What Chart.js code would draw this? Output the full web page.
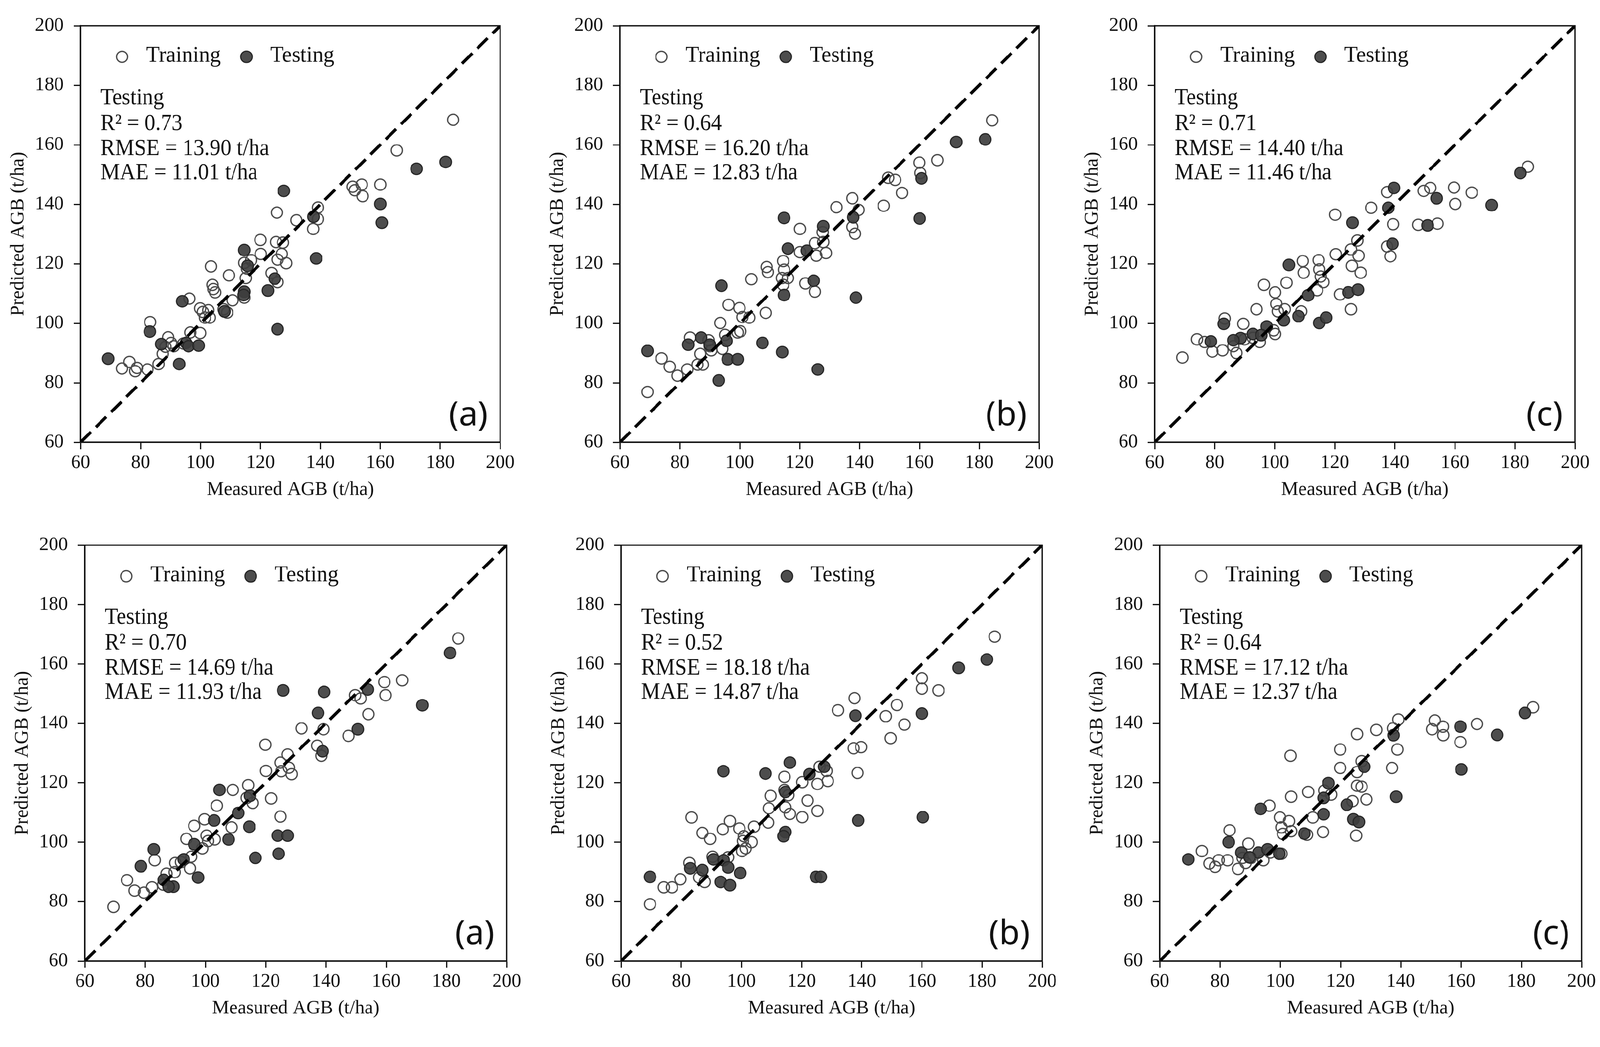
<!DOCTYPE html>
<html>
<head>
<meta charset="utf-8">
<script src="https://cdn.jsdelivr.net/npm/chart.js@4.4.0/dist/chart.umd.min.js"></script>
<style>
html,body{margin:0;padding:0;background:#fff;overflow:hidden;}
#stage{position:absolute;left:0;top:0;width:4168px;height:2680px;transform-origin:0 0;background:#fff;}
canvas{position:absolute;}
</style>
</head>
<body>
<div id="stage">
<canvas id="p0"></canvas><canvas id="p1"></canvas><canvas id="p2"></canvas>
<canvas id="p3"></canvas><canvas id="p4"></canvas><canvas id="p5"></canvas>
</div>
<script>
// ---------------- DATA ----------------
const axisMin = 60, axisMax = 200, axisStep = 20;
const oneToOne = [60, 200];
const panelLabels = ['(a)', '(b)', '(c)', '(a)', '(b)', '(c)'];
const r2Values = ['0.73', '0.64', '0.71', '0.70', '0.52', '0.64'];
const rmseValues = ['13.90', '16.20', '14.40', '14.69', '18.18', '17.12'];
const maeValues = ['11.01', '12.83', '11.46', '11.93', '14.87', '12.37'];
const xTitle = 'Measured AGB (t/ha)';
const yTitle = 'Predicted AGB (t/ha)';

const topTrainA = [[184.3,168.4],[165.5,158.1],[150.8,145.9],[151.5,144.7],[153.8,146.6],[154.1,142.7],[160.0,146.6],[139.2,138.9],[139.2,135.0],[137.6,131.7],[132.0,134.6],[125.5,137.2],[120.0,128.0],[125.2,127.3],[127.5,127.1],[120.1,123.3],[127.1,123.3],[125.7,121.4],[128.6,120.2],[103.5,119.1],[109.5,116.1],[114.6,120.3],[116.9,121.2],[115.1,115.2],[123.7,116.9],[125.7,113.8],[104.0,112.9],[104.3,111.5],[104.9,110.4],[110.7,107.7],[114.6,108.6],[96.3,108.3],[99.9,105.0],[100.8,103.8],[102.6,104.4],[101.5,101.9],[103.1,101.9],[108.9,103.6],[83.2,100.4],[99.9,96.7],[96.6,96.9],[89.2,95.3],[90.2,93.4],[88.3,92.1],[91.1,92.3],[87.4,89.7],[86.0,86.3],[94.3,93.2],[76.3,87.0],[73.8,84.8],[78.8,85.0],[78.2,83.9],[82.3,84.5],[115.5,118.4],[107.7,104.7]];
const topTestA = [[181.8,154.2],[172.1,151.9],[127.8,144.5],[160.0,140.1],[160.5,133.8],[137.7,135.8],[138.6,121.8],[114.6,124.6],[115.7,119.3],[124.8,115.0],[122.5,111.0],[114.6,110.6],[114.4,109.5],[93.9,107.4],[108.0,104.0],[125.7,98.0],[83.1,97.2],[86.9,93.0],[95.2,93.4],[96.0,92.3],[99.4,92.5],[92.9,86.3],[69.2,88.1]];

const topTrainB = [[184.3,168.2],[166.0,154.8],[160.0,154.0],[160.3,150.5],[149.6,148.9],[151.9,148.2],[154.2,143.8],[148.1,139.5],[137.6,142.0],[139.7,138.1],[137.6,132.4],[138.5,130.1],[132.3,139.0],[120.1,131.7],[127.7,130.6],[127.9,127.3],[125.1,126.9],[120.1,123.9],[125.6,122.7],[128.8,123.6],[114.5,120.9],[114.8,118.0],[109.0,118.9],[109.4,117.2],[103.9,114.8],[114.1,115.2],[116.1,115.2],[114.5,112.9],[121.9,113.4],[125.1,110.6],[96.3,106.2],[99.9,105.1],[100.9,102.1],[103.2,101.9],[108.7,103.5],[93.5,100.1],[95.1,96.1],[99.3,96.9],[100.2,97.3],[83.4,95.2],[89.6,94.3],[90.5,90.9],[86.8,89.7],[94.2,91.4],[85.9,86.1],[87.7,86.1],[82.5,84.5],[73.9,88.2],[76.6,85.4],[79.2,82.4],[69.2,76.9],[90.0,92.3]];
const topTestB = [[182.0,161.8],[172.3,160.9],[160.7,148.7],[160.1,135.2],[137.9,135.6],[114.8,135.4],[127.9,132.6],[116.1,125.1],[122.4,124.4],[124.7,114.3],[114.8,109.5],[93.9,112.6],[138.8,108.6],[107.6,93.4],[114.2,90.3],[126.1,84.5],[93.0,80.8],[69.2,90.7],[82.8,92.8],[87.1,95.2],[96.0,87.9],[99.3,87.9],[95.6,94.1],[90.0,92.8]];

const topTrainC = [[184.3,152.6],[159.7,145.6],[160.1,140.1],[165.6,143.9],[149.6,144.5],[151.8,145.5],[147.8,133.1],[154.2,133.5],[137.4,144.1],[139.4,133.3],[132.1,138.8],[120.1,136.5],[137.4,125.8],[138.5,122.5],[127.5,127.8],[125.4,124.8],[127.9,122.7],[120.3,123.2],[125.7,119.3],[128.6,117.0],[109.3,120.9],[109.6,117.0],[114.6,121.2],[114.8,118.1],[115.3,115.7],[116.2,113.8],[114.1,111.1],[121.7,109.7],[125.4,104.7],[96.4,112.9],[103.9,113.6],[100.1,110.4],[100.5,106.5],[101.0,104.0],[103.3,104.7],[108.8,104.0],[93.9,104.7],[83.3,101.6],[89.5,99.8],[100.1,96.4],[99.6,97.6],[95.0,93.7],[92.7,95.1],[89.9,94.6],[86.2,92.3],[87.2,90.0],[82.6,90.9],[79.2,90.5],[76.6,93.7],[74.1,94.6],[69.2,88.5]];
const topTestC = [[181.8,150.5],[172.2,139.7],[153.9,142.0],[150.9,132.9],[139.7,145.5],[137.8,138.8],[139.2,126.7],[125.9,133.8],[104.7,119.6],[111.1,109.4],[124.5,110.4],[127.7,111.3],[114.8,100.1],[117.1,101.9],[107.9,102.4],[103.0,101.0],[83.0,99.8],[97.3,98.9],[92.7,96.4],[95.5,96.0],[88.6,95.0],[86.2,94.3],[78.7,93.9]];

const botTrainA = [[183.9,168.6],[165.3,154.5],[159.4,153.9],[159.8,149.5],[149.7,149.5],[151.5,148.4],[154.1,143.1],[147.5,135.8],[139.2,138.0],[137.1,132.5],[138.5,129.1],[131.9,138.3],[119.9,132.8],[127.3,129.5],[124.9,126.8],[127.7,125.1],[125.2,123.9],[128.6,122.9],[120.1,124.0],[114.2,119.2],[109.1,117.6],[113.7,114.9],[115.7,113.2],[121.8,114.7],[124.9,108.6],[103.8,112.3],[99.7,107.7],[96.3,105.5],[108.7,105.0],[100.4,102.2],[103.1,100.9],[100.9,100.4],[93.7,101.1],[99.0,97.9],[95.3,95.1],[94.9,91.2],[90.0,93.0],[89.8,89.9],[83.2,93.9],[87.1,89.4],[86.0,85.7],[82.3,84.8],[74.0,87.2],[76.5,83.7],[79.6,83.0],[69.5,78.2],[91.9,93.3]];
const botTestA = [[181.2,163.7],[172.0,146.1],[125.8,151.1],[139.4,150.6],[153.9,151.4],[137.4,143.5],[150.6,138.0],[138.9,130.6],[104.7,117.6],[114.8,115.6],[110.9,109.8],[102.9,107.3],[114.6,105.2],[124.0,102.2],[127.3,102.2],[107.7,100.9],[124.3,96.1],[116.6,94.7],[96.3,99.3],[82.9,97.6],[78.6,91.9],[92.8,94.2],[97.6,88.1],[86.2,87.3],[89.4,85.0],[87.8,85.0]];

const botTrainB = [[184.2,169.2],[160.0,155.2],[160.0,151.7],[165.5,151.1],[137.6,148.5],[132.1,144.4],[151.7,146.2],[148.0,142.4],[154.2,139.6],[149.6,135.0],[137.3,131.6],[139.8,132.0],[138.6,123.3],[126.0,125.4],[128.3,124.0],[120.2,120.2],[125.3,119.6],[128.7,120.6],[114.3,122.0],[114.3,117.6],[115.6,115.8],[109.7,115.6],[109.1,111.4],[114.6,111.7],[116.1,109.5],[122.0,114.0],[125.3,110.5],[120.2,108.4],[108.9,106.6],[83.4,108.3],[96.2,107.1],[93.8,104.3],[99.3,104.6],[87.0,103.1],[89.6,101.1],[104.2,105.2],[100.8,102.0],[100.5,100.4],[103.4,100.0],[101.4,97.9],[100.2,97.0],[90.4,95.1],[95.6,94.9],[82.7,93.0],[85.9,88.1],[87.8,86.6],[79.7,87.5],[76.9,84.8],[74.2,84.8],[69.6,79.1]];
const botTestB = [[181.6,161.5],[172.2,158.7],[160.0,143.3],[160.3,108.4],[137.9,142.6],[138.8,107.3],[116.1,126.8],[127.5,125.4],[122.6,122.9],[108.0,123.1],[94.0,123.9],[114.6,116.9],[114.6,103.4],[114.0,102.0],[124.8,88.3],[126.4,88.3],[69.6,88.3],[83.0,91.2],[87.0,90.6],[90.7,94.2],[94.1,93.9],[95.6,91.5],[99.6,89.6],[93.1,86.6],[96.2,85.5]];

const botTrainC = [[183.9,145.4],[165.3,139.8],[151.3,141.0],[150.4,138.0],[154.0,138.9],[154.1,136.0],[159.8,133.7],[139.2,141.3],[137.4,138.3],[138.9,131.2],[137.1,125.0],[131.9,137.8],[125.5,136.4],[119.9,131.2],[119.9,125.0],[127.0,127.3],[125.5,123.6],[103.4,129.1],[125.5,119.0],[127.0,118.7],[128.6,114.4],[124.0,113.8],[109.3,116.9],[114.6,117.4],[116.9,116.0],[103.6,115.3],[96.4,112.3],[110.8,108.3],[99.9,108.3],[102.9,107.1],[100.4,105.0],[103.6,103.7],[100.9,102.8],[108.9,102.5],[114.2,103.4],[125.2,102.2],[83.2,104.0],[89.4,99.5],[74.0,97.0],[82.5,93.9],[79.6,93.9],[76.5,92.8],[78.4,91.7],[86.0,91.0],[88.5,93.0],[90.3,94.7],[94.4,93.9],[100.4,96.1],[96.7,96.5],[87.5,94.7]];
const botTestC = [[181.2,143.5],[172.0,136.1],[159.8,138.9],[160.1,124.5],[137.6,136.0],[138.5,115.3],[127.9,125.4],[116.0,119.9],[114.4,114.9],[114.4,109.4],[122.1,112.6],[124.3,107.7],[126.1,106.8],[108.0,102.9],[93.5,111.2],[82.9,100.0],[69.5,94.2],[87.1,96.5],[92.8,96.5],[95.8,97.6],[99.7,96.1],[89.8,94.9]];

const trainingSets = [topTrainA, topTrainB, topTrainC, botTrainA, botTrainB, botTrainC];
const testingSets = [topTestA, topTestB, topTestC, botTestA, botTestB, botTestC];

// ---------------- LAYOUT ----------------
const STAGE_W = 4168, STAGE_H = 2680;
const plotBoxes = [
  {l:210, t:51, r:1303, b:1152},
  {l:1615, t:51, r:2707, b:1152},
  {l:3008, t:51, r:4103, b:1152},
  {l:221, t:1404, r:1320, b:2503},
  {l:1618, t:1404, r:2715, b:2503},
  {l:3021, t:1404, r:4120, b:2503}
];
const Y_AXIS_W = 192, X_AXIS_H = 154, PAD_T = 40, PAD_R = 50;
const SERIF = '"Liberation Serif", "Times New Roman", serif';
const INK = '#111111';

(function fitStage() {
  const vw = window.innerWidth || document.documentElement.clientWidth || STAGE_W;
  const vh = window.innerHeight || document.documentElement.clientHeight || STAGE_H;
  const s = Math.min(vw / STAGE_W, vh / STAGE_H);
  document.getElementById('stage').style.transform = 'scale(' + s + ')';
})();

function drawScaledText(ctx, text, x, y, size, family, sx, align) {
  ctx.save();
  ctx.font = size + 'px ' + family;
  ctx.textBaseline = 'alphabetic';
  ctx.textAlign = 'left';
  const w = ctx.measureText(text).width * sx;
  let x0 = x;
  if (align === 'right') x0 = x - w;
  ctx.translate(x0, y);
  ctx.scale(sx, 1);
  ctx.fillStyle = INK;
  ctx.fillText(text, 0, 0);
  ctx.restore();
}

const panelPlugin = {
  id: 'panelDecor',
  afterDraw(chart, args, opts) {
    const ctx = chart.ctx;
    const a = chart.chartArea;
    ctx.save();
    ctx.strokeStyle = INK;
    ctx.lineWidth = 3.5;
    ctx.strokeRect(a.left, a.top, a.right - a.left, a.bottom - a.top);
    ctx.restore();
    const dsTrain = chart.data.datasets.find(d => d.label === 'Training');
    const dsTest = chart.data.datasets.find(d => d.label === 'Testing');
    const items = [[dsTrain, 108, 171], [dsTest, 432, 494]];
    items.forEach(([ds, cx, tx]) => {
      ctx.save();
      ctx.beginPath();
      ctx.arc(a.left + cx, a.top + 81, ds.pointRadius, 0, Math.PI * 2);
      ctx.fillStyle = ds.backgroundColor;
      ctx.fill();
      ctx.lineWidth = ds.borderWidth;
      ctx.strokeStyle = ds.borderColor;
      ctx.stroke();
      ctx.restore();
      drawScaledText(ctx, ds.label, a.left + tx, a.top + 94, 60, SERIF, 0.95, 'left');
    });
    const lines = ['Testing', 'R\u00B2 = ' + opts.r2, 'RMSE = ' + opts.rmse + ' t/ha', 'MAE = ' + opts.mae + ' t/ha'];
    const base = [205, 272, 337, 400];
    lines.forEach((t, i) => drawScaledText(ctx, t, a.left + 52, a.top + base[i], 62, SERIF, 0.91, 'left'));
    ctx.save();
    ctx.font = '88px "Noto Sans", "Open Sans", sans-serif';
    ctx.textAlign = 'right';
    ctx.textBaseline = 'alphabetic';
    ctx.fillStyle = INK;
    ctx.fillText(opts.label, a.right - 32, a.bottom - 44);
    ctx.restore();
  }
};

function axisConfig(title, isX) {
  return {
    type: 'linear',
    min: axisMin,
    max: axisMax,
    ticks: {
      stepSize: axisStep,
      color: INK,
      padding: isX ? 6 : 26,
      font: {family: SERIF, size: 50}
    },
    grid: {
      display: true,
      drawOnChartArea: false,
      drawTicks: true,
      tickLength: 18,
      tickWidth: 3.2,
      tickColor: INK
    },
    border: {display: true, color: INK, width: 3.5},
    title: {
      display: true,
      text: title,
      color: INK,
      padding: 0,
      font: {family: SERIF, size: 50}
    },
    afterFit(scale) {
      if (isX) scale.height = X_AXIS_H; else scale.width = Y_AXIS_W;
    }
  };
}

function buildPanel(i) {
  const box = plotBoxes[i];
  const cv = document.getElementById('p' + i);
  const w = box.r - box.l + Y_AXIS_W + PAD_R;
  const h = box.b - box.t + PAD_T + X_AXIS_H;
  cv.width = w; cv.height = h;
  cv.style.width = w + 'px'; cv.style.height = h + 'px';
  cv.style.left = (box.l - Y_AXIS_W) + 'px';
  cv.style.top = (box.t - PAD_T) + 'px';
  const toPts = arr => arr.map(p => ({x: p[0], y: p[1]}));
  new Chart(cv, {
    type: 'scatter',
    data: {
      datasets: [
        {
          type: 'line',
          label: '1:1',
          data: oneToOne.map(v => ({x: v, y: v})),
          borderColor: '#000000',
          borderWidth: 8,
          borderDash: [38, 18],
          pointRadius: 0,
          fill: false,
          tension: 0
        },
        {
          label: 'Testing',
          data: toPts(testingSets[i]),
          pointRadius: 15,
          backgroundColor: 'rgba(62,62,62,0.92)',
          borderColor: '#262626',
          borderWidth: 3
        },
        {
          label: 'Training',
          data: toPts(trainingSets[i]),
          pointRadius: 14.5,
          backgroundColor: 'rgba(255,255,255,0)',
          borderColor: '#4d4d4d',
          borderWidth: 3.5
        }
      ]
    },
    options: {
      responsive: false,
      maintainAspectRatio: false,
      devicePixelRatio: 1,
      animation: false,
      events: [],
      layout: {padding: {top: PAD_T, right: PAD_R, left: 0, bottom: 0}},
      scales: {x: axisConfig(xTitle, true), y: axisConfig(yTitle, false)},
      plugins: {
        legend: {display: false},
        tooltip: {enabled: false},
        panelDecor: {label: panelLabels[i], r2: r2Values[i], rmse: rmseValues[i], mae: maeValues[i]}
      }
    },
    plugins: [panelPlugin]
  });
}

function start() {
  for (let i = 0; i < 6; i++) buildPanel(i);
}
const fontLoads = [
  '50px "Liberation Serif"', '60px "Liberation Serif"', '88px "Noto Sans"'
].map(f => (document.fonts && document.fonts.load) ? document.fonts.load(f) : Promise.resolve());
Promise.all(fontLoads).then(start, start);
</script>
</body>
</html>
